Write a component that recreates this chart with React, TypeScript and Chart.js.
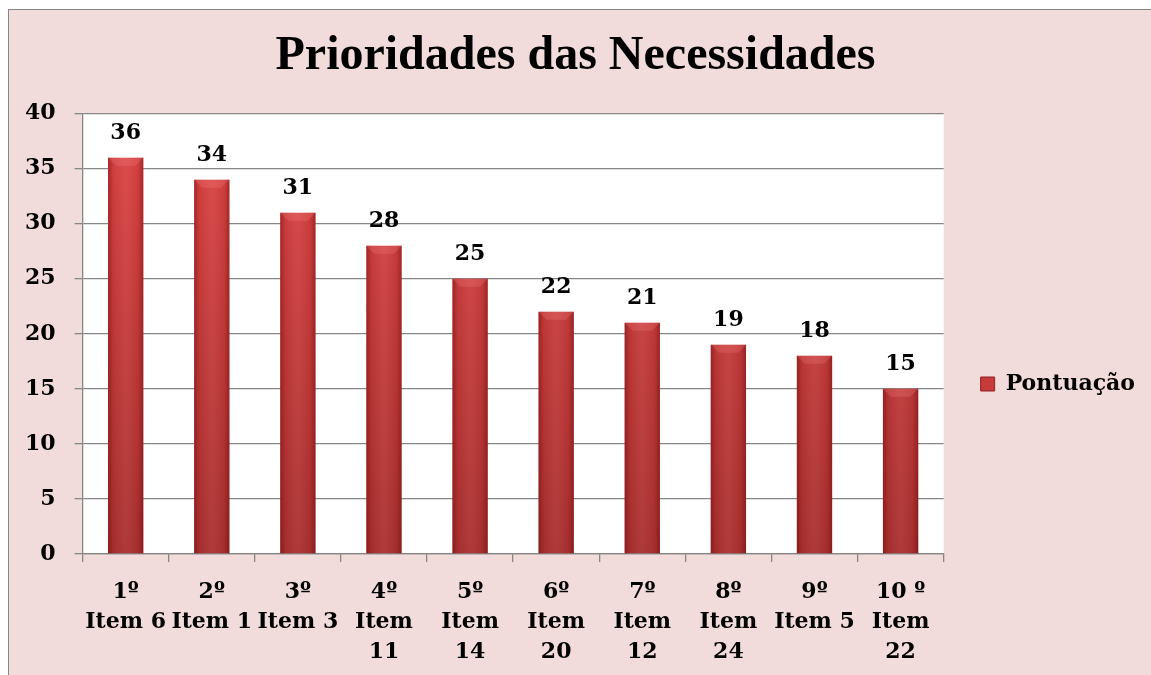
import React, { useEffect, useRef } from "react";
import { Chart, registerables } from "chart.js";

Chart.register(...registerables);

const categories: string[][] = [
  ["1º", "Item 6"],
  ["2º", "Item 1"],
  ["3º", "Item 3"],
  ["4º", "Item", "11"],
  ["5º", "Item", "14"],
  ["6º", "Item", "20"],
  ["7º", "Item", "12"],
  ["8º", "Item", "24"],
  ["9º", "Item 5"],
  ["10 º", "Item", "22"],
];
const seriesName = "Pontuação";
const values = [36, 34, 31, 28, 25, 22, 21, 19, 18, 15];
const yMin = 0;
const yMax = 40;
const yStep = 5;
const titleText = "Prioridades das Necessidades";

const FONT = "'DejaVu Serif', serif";
const GRID = "#868686";

const areaBg = {
  id: "areaBg",
  beforeDraw(chart: any) {
    const { ctx, chartArea } = chart;
    if (!chartArea) return;
    ctx.save();
    ctx.fillStyle = "#ffffff";
    ctx.fillRect(chartArea.left, chartArea.top, chartArea.right - chartArea.left, chartArea.bottom - chartArea.top);
    ctx.restore();
  },
};

const barDecor = {
  id: "barDecor",
  afterDatasetsDraw(chart: any) {
    const { ctx } = chart;
    const meta = chart.getDatasetMeta(0);
    ctx.save();
    meta.data.forEach((bar: any, i: number) => {
      const l = bar.x - bar.width / 2;
      const r = bar.x + bar.width / 2;
      const t = bar.y;
      const b = bar.base;
      const g = ctx.createLinearGradient(l, 0, r, 0);
      g.addColorStop(0, "rgba(90,0,0,0.40)");
      g.addColorStop(0.14, "rgba(90,0,0,0.08)");
      g.addColorStop(0.5, "rgba(255,255,255,0.05)");
      g.addColorStop(0.86, "rgba(90,0,0,0.08)");
      g.addColorStop(1, "rgba(90,0,0,0.40)");
      ctx.fillStyle = g;
      ctx.fillRect(l, t, r - l, b - t);
      const bv = 8;
      ctx.beginPath();
      ctx.moveTo(l, t);
      ctx.lineTo(r, t);
      ctx.lineTo(r - bv, t + bv);
      ctx.lineTo(l + bv, t + bv);
      ctx.closePath();
      ctx.fillStyle = "rgba(255,140,140,0.22)";
      ctx.fill();
      ctx.fillStyle = "#000";
      ctx.font = `bold 22px ${FONT}`;
      ctx.textAlign = "center";
      ctx.textBaseline = "alphabetic";
      ctx.fillText(String(values[i]), bar.x, t - 19);
    });
    ctx.restore();
  },
};

export default function App() {
  const ref = useRef<HTMLCanvasElement | null>(null);
  useEffect(() => {
    if (!ref.current) return;
    const font = { family: FONT, weight: "bold" as const, size: 22 };
    const chart = new Chart(ref.current, {
      type: "bar",
      data: {
        labels: categories,
        datasets: [
          {
            label: seriesName,
            data: values,
            backgroundColor: (c: any) => {
              const ca = c.chart.chartArea;
              if (!ca) return "#CC3B3B";
              const g = c.chart.ctx.createLinearGradient(0, ca.top, 0, ca.bottom);
              g.addColorStop(0, "#DE4444");
              g.addColorStop(1, "#A8302F");
              return g;
            },
            borderWidth: 0,
            barPercentage: 0.41,
            categoryPercentage: 1,
          },
        ],
      },
      options: {
        animation: false,
        responsive: true,
        maintainAspectRatio: false,
        layout: { padding: { left: -3, right: 6, bottom: -7, top: 0 } },
        plugins: {
          title: {
            display: true,
            text: titleText,
            color: "#000",
            font: { family: "'Liberation Serif', serif", weight: "bold", size: 48, lineHeight: 1.2 },
            padding: { top: 18, bottom: 28 },
          },
          legend: {
            position: "right",
            title: {
              display: true,
              text: "",
              font: { size: 10, lineHeight: 1 },
              padding: { top: 66, bottom: 0 },
            },
            labels: {
              font,
              color: "#000",
              boxWidth: 14,
              boxHeight: 14,
              padding: 10,
              generateLabels: () => [
                {
                  text: seriesName,
                  fillStyle: "#C83A3A",
                  strokeStyle: "#8E2222",
                  fontColor: "#000",
                  lineWidth: 1,
                  datasetIndex: 0,
                  hidden: false,
                },
              ],
            },
          },
          tooltip: { enabled: false },
        },
        scales: {
          x: {
            offset: true,
            grid: { display: true, drawOnChartArea: false, tickLength: 8, color: GRID, offset: true, lineWidth: 1.3 },
            border: { color: GRID, width: 1.3 },
            ticks: { font: { ...font, lineHeight: 1.364 }, color: "#000", padding: 15, maxRotation: 0, autoSkip: false },
          },
          y: {
            min: yMin,
            max: yMax,
            ticks: { stepSize: yStep, font, color: "#000", padding: 19 },
            grid: { color: GRID, tickLength: 8, lineWidth: 1.3 },
            border: { color: GRID, width: 1.3 },
          },
          y2: {
            position: "right",
            display: true,
            ticks: { display: false },
            grid: { display: false },
            border: { display: false },
            afterFit: (s: any) => {
              s.width = 27;
            },
          },
        },
      },
      plugins: [areaBg, barDecor],
    });
    return () => chart.destroy();
  }, []);

  return (
    <div
      style={{
        position: "fixed",
        left: 8,
        top: 9,
        right: 0,
        bottom: 0,
        background: "#F2DCDB",
        borderLeft: "1px solid #868686",
        borderTop: "1px solid #868686",
      }}
    >
      <canvas ref={ref} />
    </div>
  );
}
